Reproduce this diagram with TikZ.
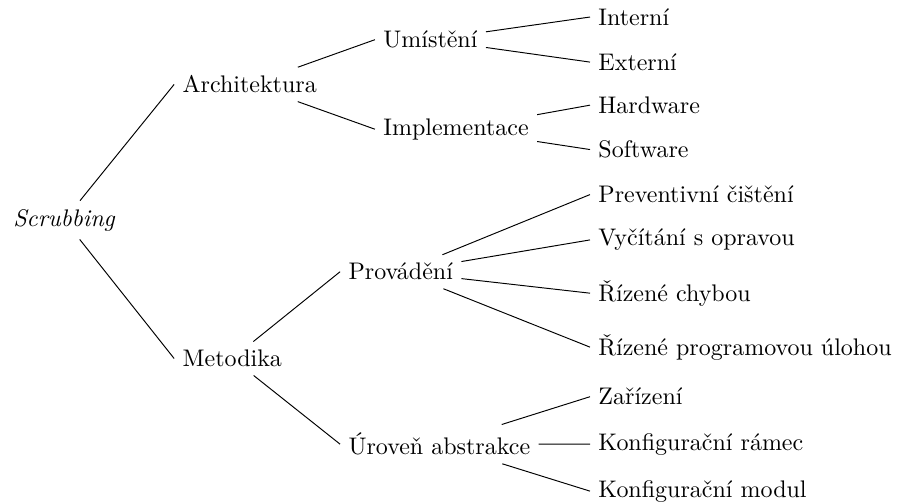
\documentclass[tikz,border=0pt]{standalone}
\usepackage{tikz}
\tikzset{item/.style={anchor=base west}}

\begin{document}
\begin{tikzpicture}
    \useasboundingbox (0, 0) rectangle (13.165, -7.366);

    \node[item] (scrub) at (0.07, -3.31) {\textit{Scrubbing}};

    \node[item] (arch) at (2.55, -1.36) {Architektura};
    \node[item] (meto) at (2.55, -5.37) {Metodika};

    \node[item] (umist) at (5.49, -0.70) {Umístění};
    \node[item] (impl) at (5.49, -1.98) {Implementace};
    \node[item] (prov) at (4.98, -4.10) {Provádění};
    \node[item] (urov) at (4.98, -6.66) {Úroveň abstrakce};

    \node[item] (intr) at (8.64, -0.37) {Interní};
    \node[item] (extr) at (8.64, -1.03) {Externí};
    \node[item] (hw) at (8.64, -1.66) {Hardware};
    \node[item] (sw) at (8.64, -2.31) {Software};
    \node[item] (prev) at (8.64, -2.97) {Preventivní čištění};
    \node[item] (vyc) at (8.64, -3.60) {Vyčítání s opravou};
    \node[item] (rch) at (8.64, -4.41) {Řízené chybou};
    \node[item] (rpu) at (8.64, -5.20) {Řízené programovou úlohou};
    \node[item] (zar) at (8.64, -5.93) {Zařízení};
    \node[item] (krm) at (8.64, -6.59) {Konfigurační rámec};
    \node[item] (kmd) at (8.64, -7.28) {Konfigurační modul};

    \draw (scrub) -- (arch.west);
    \draw (scrub) -- (meto.west);

    \draw (arch) -- (umist.west);
    \draw (arch) -- (impl.west);
    \draw (meto) -- (prov.west);
    \draw (meto) -- (urov.west);

    \draw (umist) -- (intr.west);
    \draw (umist) -- (extr.west);
    \draw (impl) -- (hw.west);
    \draw (impl) -- (sw.west);
    \draw (prov) -- (prev.west);
    \draw (prov) -- (vyc.west);
    \draw (prov) -- (rch.west);
    \draw (prov) -- (rpu.west);
    \draw (urov) -- (zar.west);
    \draw (urov) -- (krm.west);
    \draw (urov) -- (kmd.west);

    % \draw[help lines] (0,0) grid (14,-8);
\end{tikzpicture}
\end{document}
